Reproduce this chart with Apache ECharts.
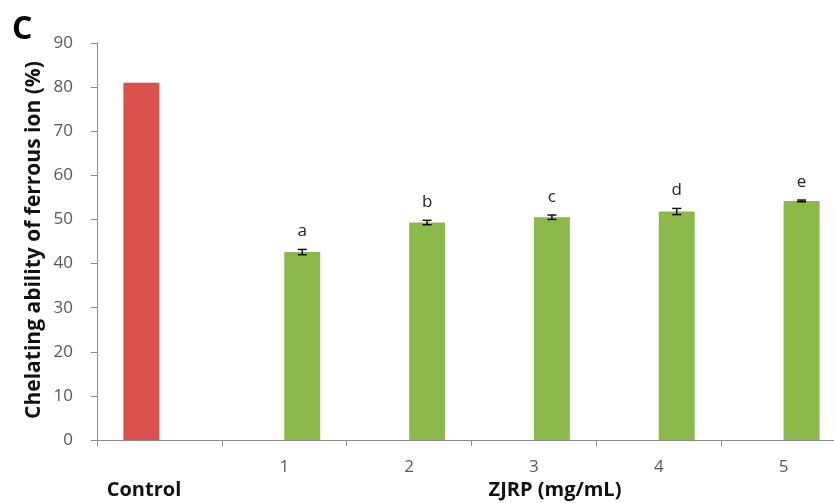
<!DOCTYPE html>
<html>
<head>
<meta charset="utf-8">
<script src="https://cdn.jsdelivr.net/npm/echarts@6/dist/echarts.min.js"></script>
<style>html,body{margin:0;padding:0;background:#fff;overflow:hidden;}#c{width:846px;height:503px;}</style>
</head>
<body>
<div id="c"></div>
<script>
var categories = ['', '1', '2', '3', '4', '5'];
var controlValues = [81, '-', '-', '-', '-', '-'];
var zjrpValues = ['-', 42.6, 49.3, 50.5, 51.8, 54.2];
var zjrpErrors = [0, 0.6, 0.5, 0.5, 0.7, 0.2];
var letters = ['', 'a', 'b', 'c', 'd', 'e'];
var yTicks = [0, 10, 20, 30, 40, 50, 60, 70, 80, 90];

var BAR_W = 36;
var errData = [];
for (var i = 0; i < categories.length; i++) {
  if (zjrpValues[i] !== '-') errData.push([i, zjrpValues[i], zjrpErrors[i], letters[i]]);
}

var chart = echarts.init(document.getElementById('c'), null, {renderer: 'canvas'});
var font = '"Open Sans", "Liberation Sans", sans-serif';
chart.setOption({
  animation: false,
  grid: {left: 97, right: 0, top: 43, bottom: 63, containLabel: false},
  xAxis: {
    type: 'category',
    data: categories,
    axisLine: {show: true, lineStyle: {color: '#8c8c8c', width: 1}},
    axisTick: {show: true, length: 6, lineStyle: {color: '#8c8c8c'}},
    axisLabel: {color: '#595959', fontSize: 17, fontFamily: font, margin: 19},
    splitLine: {show: false}
  },
  yAxis: {
    type: 'value', min: yTicks[0], max: yTicks[yTicks.length - 1], interval: 10,
    axisLine: {show: true, lineStyle: {color: '#8c8c8c', width: 1}},
    axisTick: {show: true, length: 6, lineStyle: {color: '#8c8c8c'}},
    axisLabel: {color: '#595959', fontSize: 17, fontFamily: font, margin: 24},
    splitLine: {show: false}
  },
  series: [
    {type: 'bar', name: 'Control', data: controlValues, barWidth: BAR_W, barGap: '0%',
     itemStyle: {color: '#D9504C'}},
    {type: 'bar', name: 'ZJRP', data: zjrpValues, barWidth: BAR_W, barGap: '0%',
     itemStyle: {color: '#8BB94A'}},
    {type: 'custom', name: 'err', data: errData, z: 10,
     renderItem: function (params, api) {
       var idx = api.value(0), v = api.value(1), e = api.value(2);
       var top = api.coord([idx, v + e]);
       var bot = api.coord([idx, v - e]);
       var x = top[0] + BAR_W / 2;
       var cw = 4.5;
       return {type: 'group', children: [
         {type: 'line', shape: {x1: x, y1: top[1], x2: x, y2: bot[1]}, style: {stroke: '#000', lineWidth: 1.4}},
         {type: 'line', shape: {x1: x - cw, y1: top[1], x2: x + cw, y2: top[1]}, style: {stroke: '#000', lineWidth: 1.4}},
         {type: 'line', shape: {x1: x - cw, y1: bot[1], x2: x + cw, y2: bot[1]}, style: {stroke: '#000', lineWidth: 1.4}},
         {type: 'text', x: x, y: top[1] - 18, style: {text: api.value(3), fill: '#222', font: '17px ' + font, textAlign: 'center', textVerticalAlign: 'middle'}}
       ]};
     },
     encode: {x: 0, y: 1}
    }
  ],
  graphic: [
    {type: 'text', x: 12, y: 30, style: {text: 'C', fill: '#000', font: 'bold 32px ' + font, textAlign: 'left', textVerticalAlign: 'middle'}},
    {type: 'text', x: 34, y: 240, rotation: Math.PI / 2, style: {text: 'Chelating ability of ferrous ion (%)', fill: '#111', font: 'bold 21px ' + font, textAlign: 'center', textVerticalAlign: 'middle'}},
    {type: 'text', x: 144, y: 490, style: {text: 'Control', fill: '#111', font: 'bold 20px ' + font, textAlign: 'center', textVerticalAlign: 'middle'}},
    {type: 'text', x: 555, y: 490, style: {text: 'ZJRP (mg/mL)', fill: '#111', font: 'bold 20px ' + font, textAlign: 'center', textVerticalAlign: 'middle'}}
  ]
});
</script>
</body>
</html>
